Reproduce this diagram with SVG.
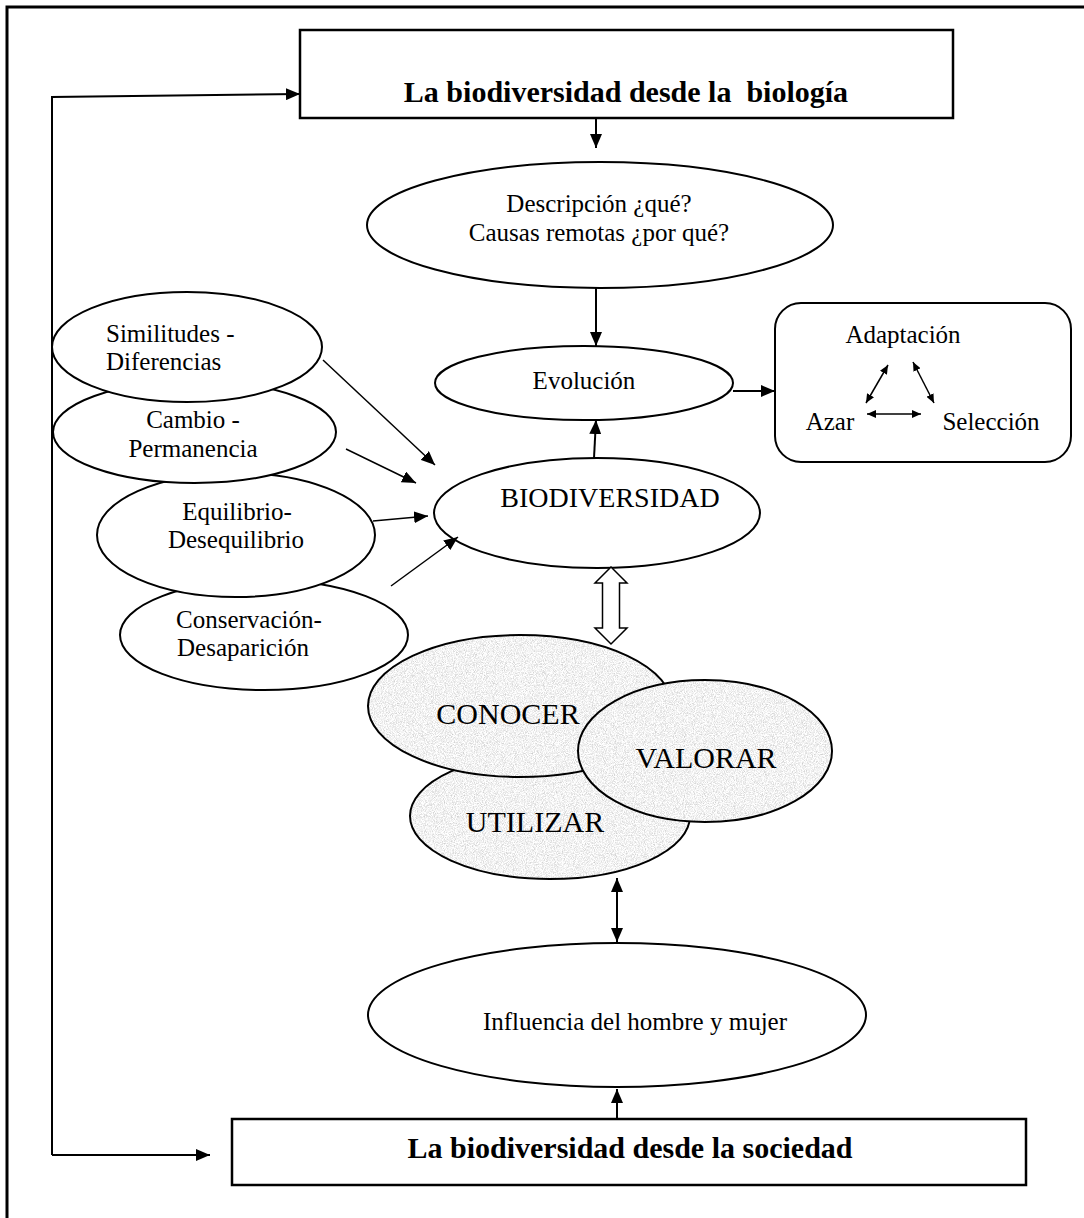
<svg xmlns="http://www.w3.org/2000/svg" width="1084" height="1218" viewBox="0 0 1084 1218">
<style>
text{font-family:"Liberation Serif","Times New Roman",serif;fill:#000}
.t{font-size:25px}
.tb{font-size:30px;font-weight:bold}
.big{font-size:30px}
.box{fill:#fff;stroke:#000;stroke-width:2.5}
.el{fill:#fff;stroke:#000;stroke-width:2}
.gs{fill:none;stroke:#000;stroke-width:2}
.c{fill:none;stroke:#000;stroke-width:2}
.ct{fill:none;stroke:#000;stroke-width:1.5}
</style>
<defs>
<marker id="ah" viewBox="0 0 14 12" refX="14" refY="6" markerWidth="14" markerHeight="12" markerUnits="userSpaceOnUse" orient="auto-start-reverse">
<path d="M0,0 L14,6 L0,12 z" fill="#000"/>
</marker>
<marker id="as" viewBox="0 0 9 8" refX="9" refY="4" markerWidth="9" markerHeight="8" markerUnits="userSpaceOnUse" orient="auto-start-reverse">
<path d="M0,0 L9,4 L0,8 z" fill="#000"/>
</marker>
<filter id="grain" x="0" y="0" width="100%" height="100%" color-interpolation-filters="sRGB">
<feTurbulence type="fractalNoise" baseFrequency="1.1" numOctaves="2" seed="3" result="n"/>
<feColorMatrix in="n" type="matrix" values="0.4 0 0 0 0.75  0.4 0 0 0 0.75  0.4 0 0 0 0.75  0 0 0 0 1" result="g"/>
<feComposite in="g" in2="SourceGraphic" operator="in"/>
</filter>
</defs>
<rect width="1084" height="1218" fill="#fff"/>
<path d="M7,1218 V7 H1084" fill="none" stroke="#000" stroke-width="3"/>

<g id="n-biologia">
<rect class="box" x="300" y="30" width="653" height="88"/>
<text class="tb" x="626" y="102" text-anchor="middle" xml:space="preserve">La biodiversidad desde la  biología</text>
</g>
<g id="n-descripcion">
<ellipse class="el" cx="600" cy="225" rx="233" ry="63"/>
<text class="t" x="599" y="212" text-anchor="middle">Descripción ¿qué?</text>
<text class="t" x="599" y="241" text-anchor="middle">Causas remotas ¿por qué?</text>
</g>
<g id="n-evolucion">
<ellipse class="el" cx="584" cy="383" rx="149" ry="37"/>
<text class="t" x="584" y="389" text-anchor="middle">Evolución</text>
</g>
<g id="n-mecanismos">
<rect class="box" x="775" y="303" width="296" height="159" rx="26" ry="26" style="stroke-width:2"/>
<text class="t" x="903" y="343" text-anchor="middle">Adaptación</text>
<text class="t" x="830" y="430" text-anchor="middle">Azar</text>
<text class="t" x="991" y="430" text-anchor="middle">Selección</text>
</g>
<g id="n-biodiversidad">
<ellipse class="el" cx="597" cy="513" rx="163" ry="55"/>
<text x="610" y="507" text-anchor="middle" style="font-size:28px">BIODIVERSIDAD</text>
</g>
<g id="n-conservacion">
<ellipse class="el" cx="264" cy="635" rx="144" ry="55"/>
<text class="t" x="176" y="628">Conservación-</text>
<text class="t" x="177" y="656">Desaparición</text>
</g>
<g id="n-equilibrio">
<ellipse class="el" cx="236" cy="535" rx="139" ry="62"/>
<text class="t" x="237" y="520" text-anchor="middle">Equilibrio-</text>
<text class="t" x="236" y="548" text-anchor="middle">Desequilibrio</text>
</g>
<g id="n-cambio">
<ellipse class="el" cx="194.5" cy="432" rx="141.5" ry="51"/>
<text class="t" x="193" y="428" text-anchor="middle">Cambio -</text>
<text class="t" x="193" y="457" text-anchor="middle">Permanencia</text>
</g>
<g id="n-similitudes">
<ellipse class="el" cx="187" cy="347" rx="135" ry="55"/>
<text class="t" x="106" y="342">Similitudes -</text>
<text class="t" x="106" y="370">Diferencias</text>
</g>
<g id="n-utilizar">
<ellipse cx="550" cy="816" rx="140" ry="63" fill="#000" filter="url(#grain)"/>
<ellipse class="gs" cx="550" cy="816" rx="140" ry="63"/>
<text class="big" x="535" y="832" text-anchor="middle">UTILIZAR</text>
</g>
<g id="n-conocer">
<ellipse cx="520" cy="706" rx="152" ry="71" fill="#000" filter="url(#grain)"/>
<ellipse class="gs" cx="520" cy="706" rx="152" ry="71"/>
<text class="big" x="508" y="724" text-anchor="middle">CONOCER</text>
</g>
<g id="n-valorar">
<ellipse cx="705" cy="751" rx="127" ry="71" fill="#000" filter="url(#grain)"/>
<ellipse class="gs" cx="705" cy="751" rx="127" ry="71"/>
<text class="big" x="706" y="768" text-anchor="middle">VALORAR</text>
</g>
<g id="n-influencia">
<ellipse class="el" cx="617" cy="1015" rx="249" ry="72"/>
<text class="t" x="635" y="1030" text-anchor="middle">Influencia del hombre y mujer</text>
</g>
<g id="n-sociedad">
<rect class="box" x="232" y="1119" width="794" height="66"/>
<text class="tb" x="630" y="1158" text-anchor="middle">La biodiversidad desde la sociedad</text>
</g>

<g id="connectors">
<path class="c" d="M52,1155 V97 L300,94" marker-end="url(#ah)"/>
<path class="c" d="M52,1155 H210" marker-end="url(#ah)"/>
<path class="c" d="M596,118 V148" marker-end="url(#ah)"/>
<path class="c" d="M596,288 V346" marker-end="url(#ah)"/>
<path class="c" d="M594,458 L596,420" marker-end="url(#ah)"/>
<path class="c" d="M733,391 H775" marker-end="url(#ah)"/>
<path class="ct" d="M888,365 L866,403" marker-start="url(#as)" marker-end="url(#as)"/>
<path class="ct" d="M913,362 L934,403" marker-start="url(#as)" marker-end="url(#as)"/>
<path class="ct" d="M867,414 H921" marker-start="url(#as)" marker-end="url(#as)"/>
<path class="ct" d="M323,360 L435,465" marker-end="url(#ah)"/>
<path class="ct" d="M346,449 L416,483" marker-end="url(#ah)"/>
<path class="ct" d="M373,521 L428,516" marker-end="url(#ah)"/>
<path class="ct" d="M391,586 L458,537" marker-end="url(#ah)"/>
<polygon points="611,567 595,583 602.5,583 602.5,628 595,628 611,644 627,628 619.5,628 619.5,583 627,583" fill="#fff" stroke="#000" stroke-width="1.5"/>
<path class="c" d="M617,878 V942" marker-start="url(#ah)" marker-end="url(#ah)"/>
<path class="c" d="M617,1119 V1089" marker-end="url(#ah)"/>
</g>
</svg>
